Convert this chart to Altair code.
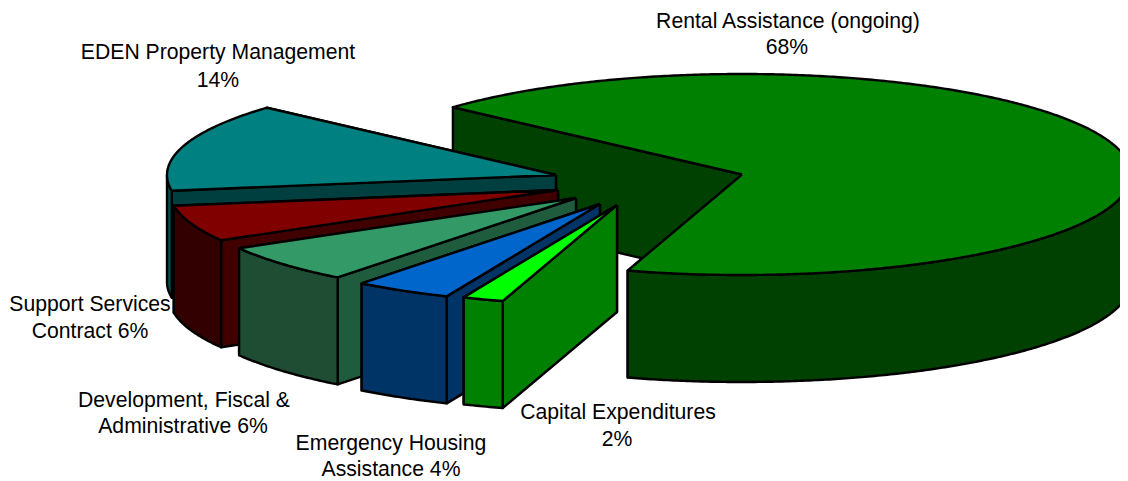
import math
import altair as alt
import pandas as pd

# Slice shares in percent as measured, clockwise from the back-left edge of the big slice
names = ["Rental Assistance (ongoing)", "Capital Expenditures", "Emergency Housing Assistance",
         "Development, Fiscal & Administrative", "Support Services Contract", "EDEN Property Management"]
shares = [68.08, 1.70, 4.05, 6.17, 5.83, 14.17]
top_colors = ["#008000", "#00FF00", "#0066CC", "#339966", "#800000", "#008080"]
radial_colors = ["#004000", "#008000", "#003366", "#1F5C3D", "#400000", "#003F3F"]
outer_colors = ["#004000", "#008000", "#003366", "#1F4D33", "#330000", "#004F4F"]
apex_x = [742, 617, 600, 576, 558, 556]
apex_y = [174.5, 205, 204, 198, 190, 175]

label_text = ["Rental Assistance (ongoing)", "68%", "EDEN Property Management", "14%",
              "Support Services", "Contract 6%", "Development, Fiscal &", "Administrative 6%",
              "Emergency Housing", "Assistance 4%", "Capital Expenditures", "2%"]
label_x = [788, 787, 218, 218, 90, 90, 184, 183, 391, 391, 618, 617]
label_y = [22, 48, 53, 81, 305, 332, 401, 427, 444, 470, 413, 440]

RX, RY, DEPTH = 389, 100.5, 107
START = 138.0  # degrees, math convention, the pie runs clockwise from here

X0, Y0, W, H = 8, 8, 1112, 473
xs = alt.Scale(domain=[X0, X0 + W], nice=False, zero=False)
ys = alt.Scale(domain=[Y0 + H, Y0], nice=False, zero=False)


def pt(cx, cy, deg, drop=0.0):
    r = math.radians(deg)
    return cx + RX * math.cos(r), cy - RY * math.sin(r) + drop


def arc(cx, cy, a0, a1, drop=0.0):
    n = max(2, int(abs(a1 - a0) * 2))
    return [pt(cx, cy, a0 + (a1 - a0) * i / n, drop) for i in range(n + 1)]


def poly(points, fill):
    pts = list(points) + [points[0]]
    df = pd.DataFrame({"x": [p[0] for p in pts], "y": [p[1] for p in pts], "i": range(len(pts))})
    return alt.Chart(df).mark_line(fill=fill, stroke="black", strokeWidth=2.4, strokeJoin="round",
                                   clip=True, interpolate="linear").encode(
        x=alt.X("x:Q", scale=xs, axis=None),
        y=alt.Y("y:Q", scale=ys, axis=None),
        order="i:Q",
    )


a = START
spans = []
for share in shares:
    spans.append((a, a - share * 3.6))
    a -= share * 3.6

layers = []
draw_order = [0, 5, 4, 3, 2, 1]
for k in draw_order:
    a0, a1 = spans[k]
    cx, cy = apex_x[k], apex_y[k]
    apex = (cx, cy)
    apex_low = (cx, cy + DEPTH)
    for ang in (a1, a0):
        layers.append(poly([apex, pt(cx, cy, ang), pt(cx, cy, ang, DEPTH), apex_low], radial_colors[k]))
    # outer wall: only the part on the front half of the ellipse
    lo, hi = min(a0, a1), max(a0, a1)
    ranges = []
    for f0, f1 in ((-180, 0), (-540, -360)):
        s, e = max(lo, f0), min(hi, f1)
        if s < e:
            ranges.append((s, e))
    for s, e in ranges:
        layers.append(poly(arc(cx, cy, s, e) + arc(cx, cy, e, s, DEPTH), outer_colors[k]))
    layers.append(poly([apex] + arc(cx, cy, a0, a1), top_colors[k]))

labels = pd.DataFrame({"t": label_text, "x": label_x, "y": label_y})
layers.append(
    alt.Chart(labels).mark_text(font="Liberation Sans", fontSize=21.2, color="black", align="center",
                                baseline="middle").encode(
        x=alt.X("x:Q", scale=xs, axis=None),
        y=alt.Y("y:Q", scale=ys, axis=None),
        text="t:N",
    )
)

chart = alt.layer(*layers).properties(
    width=W, height=H, padding=0, autosize=alt.AutoSizeParams(type="none")
).configure_view(stroke=None)

chart.save("out.html", embed_options={"renderer": "svg", "actions": False})
